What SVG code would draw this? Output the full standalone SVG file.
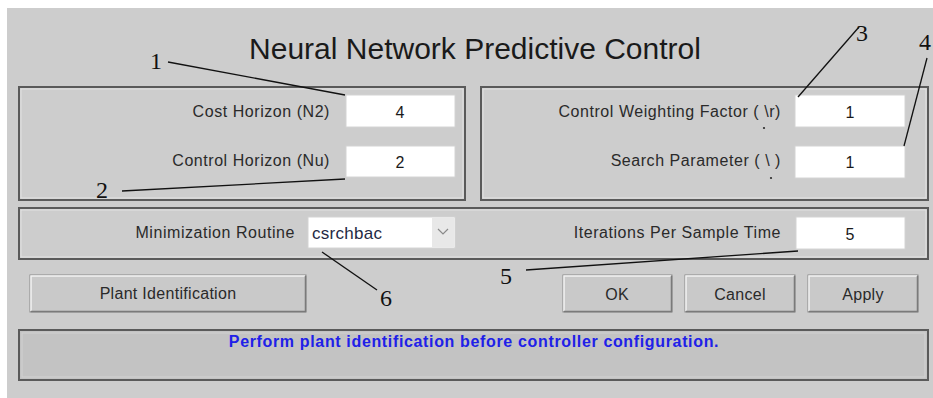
<svg xmlns="http://www.w3.org/2000/svg" width="933" height="398" viewBox="0 0 933 398">
  <style>
    .panel { fill: none; stroke: #5a5a5a; stroke-width: 2; }
    .panel-hi { fill: none; stroke: #e2e2e2; stroke-width: 1; }
    .edit { fill: #ffffff; stroke: #d4d4d4; stroke-width: 1; }
    .lbl { font-family: "Liberation Sans", Arial, sans-serif; font-size: 16px; letter-spacing: 0.55px; fill: #2a2a2a; text-anchor: end; }
    .val { font-family: "Liberation Sans", Arial, sans-serif; font-size: 16px; fill: #1a1a1a; text-anchor: middle; }
    .btn { fill: #c9c9c9; stroke: #8a8a8a; stroke-width: 1; }
    .btn-hi { fill: none; stroke: #f2f2f2; stroke-width: 1.5; }
    .btn-txt { font-family: "Liberation Sans", Arial, sans-serif; font-size: 16px; letter-spacing: 0.3px; fill: #2a2a2a; text-anchor: middle; }
    .num { font-family: "Liberation Serif", "Times New Roman", serif; font-size: 24px; fill: #111; text-anchor: middle; }
    .lead { stroke: #111; stroke-width: 1.3; fill: none; }
  </style>

  <!-- window -->
  <rect x="0" y="0" width="933" height="398" fill="#ffffff"/>
  <rect x="7" y="8" width="926" height="390" fill="#cdcdcd"/>

  <g id="title">
    <text x="475" y="59" font-family="'Liberation Sans', Arial, sans-serif" font-size="30" fill="#1a1a1a" text-anchor="middle">Neural Network Predictive Control</text>
  </g>

  <!-- horizons panel -->
  <g id="horizons">
    <rect class="panel" x="19" y="87" width="446" height="113"/>
    <rect class="panel-hi" x="21" y="89" width="442" height="109"/>
    <text class="lbl" x="330" y="117">Cost Horizon (N2)</text>
    <rect class="edit" x="346" y="95" width="109" height="32"/>
    <text class="val" x="400" y="118">4</text>
    <text class="lbl" x="330" y="166">Control Horizon (Nu)</text>
    <rect class="edit" x="346" y="146" width="109" height="31"/>
    <text class="val" x="400" y="168">2</text>
  </g>

  <!-- weighting panel -->
  <g id="weighting">
    <rect class="panel" x="481" y="87" width="447" height="113"/>
    <rect class="panel-hi" x="483" y="89" width="443" height="109"/>
    <text class="lbl" x="781" y="117">Control Weighting Factor ( \r)</text>
    <circle cx="764" cy="128" r="1.1" fill="#2a2a2a"/>
    <rect class="edit" x="795" y="95" width="110" height="32"/>
    <text class="val" x="850" y="118">1</text>
    <text class="lbl" x="781" y="166">Search Parameter ( \ )</text>
    <circle cx="771" cy="178" r="1.1" fill="#2a2a2a"/>
    <rect class="edit" x="795" y="146" width="110" height="32"/>
    <text class="val" x="850" y="168">1</text>
  </g>

  <!-- minimization panel -->
  <g id="minimization">
    <rect class="panel" x="19" y="208" width="909" height="51"/>
    <rect class="panel-hi" x="21" y="210" width="905" height="47"/>
    <text class="lbl" x="295" y="238">Minimization Routine</text>
    <rect class="edit" x="308" y="217" width="147" height="31"/>
    <rect x="432" y="218" width="22" height="29" fill="#e8e8e8"/>
    <path d="M438 229 l5 5 l5 -5" fill="none" stroke="#8a8a8a" stroke-width="1.2"/>
    <text x="312" y="239" font-family="'Liberation Sans', Arial, sans-serif" font-size="17" letter-spacing="0.3" fill="#1f2a44">csrchbac</text>
    <text class="lbl" x="781" y="238">Iterations Per Sample Time</text>
    <rect class="edit" x="796" y="217" width="109" height="32"/>
    <text class="val" x="850" y="240">5</text>
  </g>

  <!-- buttons -->
  <g id="btn-plant">
    <rect class="btn" x="30" y="275" width="276" height="37"/>
    <path class="btn-hi" d="M31 311 V276 H305"/>
    <path d="M31 311.5 H305.5 V276" fill="none" stroke="#7a7a7a" stroke-width="1.5"/>
    <text class="btn-txt" x="168" y="299">Plant Identification</text>
  </g>
  <g id="btn-ok">
    <rect class="btn" x="563" y="275" width="109" height="37"/>
    <path class="btn-hi" d="M564 311 V276 H671"/>
    <path d="M564 311.5 H671.5 V276" fill="none" stroke="#7a7a7a" stroke-width="1.5"/>
    <text class="btn-txt" x="617" y="300" font-size="17">OK</text>
  </g>
  <g id="btn-cancel">
    <rect class="btn" x="685" y="275" width="110" height="37"/>
    <path class="btn-hi" d="M686 311 V276 H794"/>
    <path d="M686 311.5 H794.5 V276" fill="none" stroke="#7a7a7a" stroke-width="1.5"/>
    <text class="btn-txt" x="740" y="300" font-size="17">Cancel</text>
  </g>
  <g id="btn-apply">
    <rect class="btn" x="808" y="275" width="110" height="37"/>
    <path class="btn-hi" d="M809 311 V276 H917"/>
    <path d="M809 311.5 H917.5 V276" fill="none" stroke="#7a7a7a" stroke-width="1.5"/>
    <text class="btn-txt" x="863" y="300" font-size="17">Apply</text>
  </g>

  <!-- status line -->
  <g id="status">
    <rect x="19" y="330" width="909" height="50" fill="#c3c3c3" stroke="#5a5a5a" stroke-width="2"/>
    <rect x="22" y="333" width="903" height="44" fill="none" stroke="#d2d2d2" stroke-width="1"/>
    <text x="474" y="347" font-family="'Liberation Sans', Arial, sans-serif" font-size="16" font-weight="bold" letter-spacing="0.65" fill="#2020e8" text-anchor="middle">Perform plant identification before controller configuration.</text>
  </g>

  <!-- callout numbers -->
  <g id="callout-1"><text class="num" x="156" y="69">1</text></g>
  <g id="callout-2"><text class="num" x="102" y="198">2</text></g>
  <g id="callout-3"><text class="num" x="862" y="41">3</text></g>
  <g id="callout-4"><text class="num" x="925" y="50">4</text></g>
  <g id="callout-5"><text class="num" x="506" y="284">5</text></g>
  <g id="callout-6"><text class="num" x="386" y="306">6</text></g>

  <!-- leader lines -->
  <g id="connectors">
    <line class="lead" x1="168" y1="62" x2="345" y2="95"/>
    <line class="lead" x1="122" y1="191" x2="345" y2="179"/>
    <line class="lead" x1="859" y1="27" x2="798" y2="97"/>
    <line class="lead" x1="927" y1="58" x2="904" y2="146"/>
    <line class="lead" x1="526" y1="270" x2="798" y2="251"/>
    <line class="lead" x1="322" y1="252" x2="377" y2="290"/>
  </g>
</svg>
